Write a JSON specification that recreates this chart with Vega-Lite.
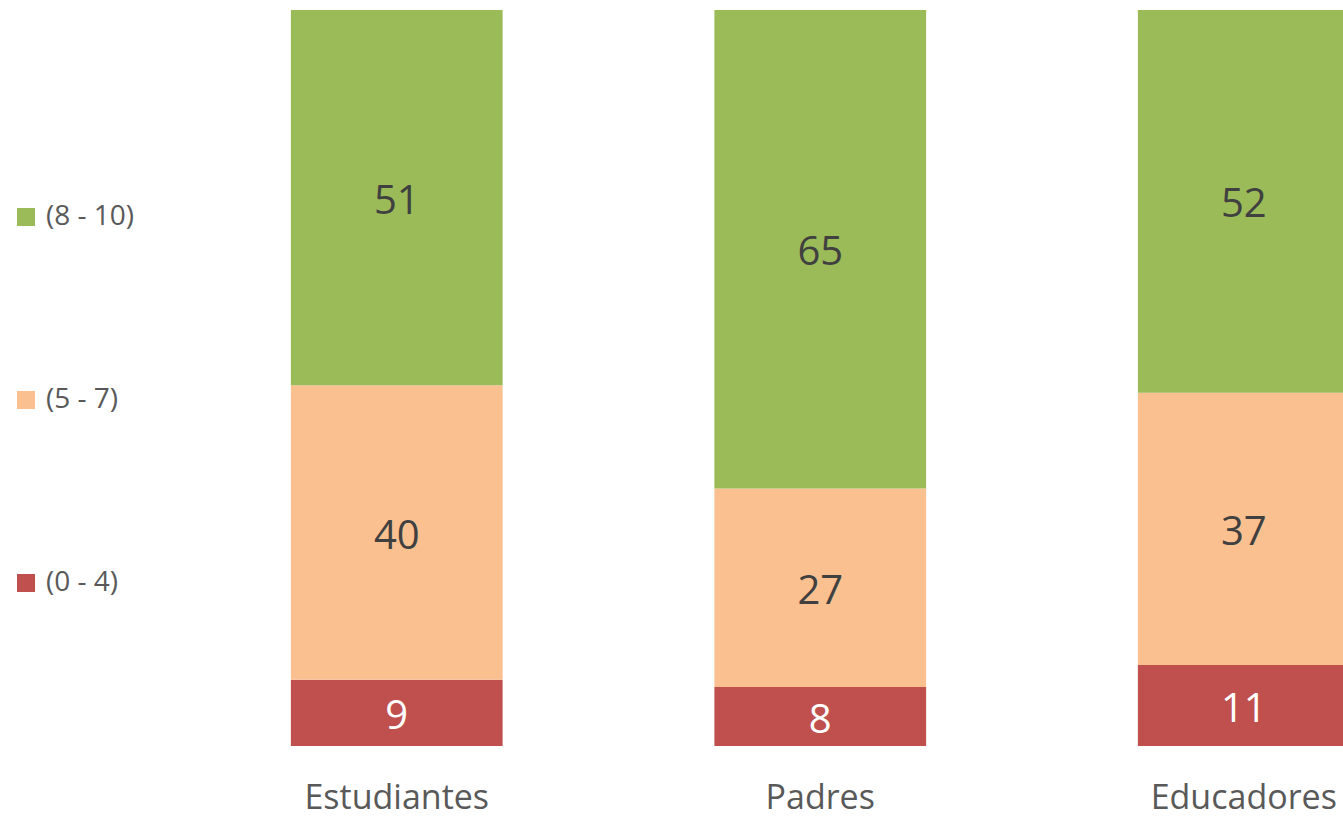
{
  "$schema": "https://vega.github.io/schema/vega-lite/v6.json",
  "width": 1158,
  "height": 736,
  "autosize": "none",
  "padding": {"left": 185, "top": 10, "right": 0, "bottom": 72},
  "background": "white",
  "config": {"view": {"stroke": null}, "font": "Open Sans"},
  "data": {
    "values": [
      {"grupo": "Estudiantes", "rango": "(0 - 4)", "valor": 9},
      {"grupo": "Estudiantes", "rango": "(5 - 7)", "valor": 40},
      {"grupo": "Estudiantes", "rango": "(8 - 10)", "valor": 51},
      {"grupo": "Padres", "rango": "(0 - 4)", "valor": 8},
      {"grupo": "Padres", "rango": "(5 - 7)", "valor": 27},
      {"grupo": "Padres", "rango": "(8 - 10)", "valor": 65},
      {"grupo": "Educadores", "rango": "(0 - 4)", "valor": 11},
      {"grupo": "Educadores", "rango": "(5 - 7)", "valor": 37},
      {"grupo": "Educadores", "rango": "(8 - 10)", "valor": 52}
    ]
  },
  "encoding": {
    "x": {
      "field": "grupo",
      "type": "nominal",
      "sort": ["Estudiantes", "Padres", "Educadores"],
      "scale": {"range": [0, 1270.5], "paddingInner": 0.5, "paddingOuter": 0.25},
      "axis": {
        "title": null,
        "domain": false,
        "ticks": false,
        "labelAngle": 0,
        "labelFontSize": 34,
        "labelColor": "#595959",
        "labelPadding": 35,
        "labelLimit": 0,
        "labelFont": "Open Sans"
      }
    },
    "order": {"field": "rango", "type": "ordinal", "sort": "ascending"}
  },
  "layer": [
    {
      "mark": {"type": "bar"},
      "encoding": {
        "y": {"field": "valor", "type": "quantitative", "stack": "zero", "scale": {"domain": [0, 100]}, "axis": null},
        "color": {
          "field": "rango",
          "type": "nominal",
          "scale": {"domain": ["(8 - 10)", "(5 - 7)", "(0 - 4)"], "range": ["#9BBB59", "#FAC090", "#C0504D"]},
          "legend": {
            "orient": "none",
            "legendX": -173,
            "legendY": 193,
            "title": null,
            "symbolType": "square",
            "symbolSize": 324,
            "symbolStrokeWidth": 0,
            "labelFontSize": 28,
            "labelColor": "#595959",
            "labelOffset": 6,
            "rowPadding": 155,
            "labelLimit": 0,
            "labelFont": "Open Sans"
          }
        }
      }
    },
    {
      "mark": {"type": "text", "fontSize": 40, "baseline": "middle", "dy": 4, "font": "Open Sans"},
      "encoding": {
        "y": {"field": "valor", "type": "quantitative", "stack": "zero", "bandPosition": 0.5},
        "text": {"field": "valor", "type": "quantitative"},
        "color": {
          "condition": {"test": "datum['rango'] === '(0 - 4)'", "value": "#FFFFFF"},
          "value": "#404040"
        }
      }
    }
  ]
}
